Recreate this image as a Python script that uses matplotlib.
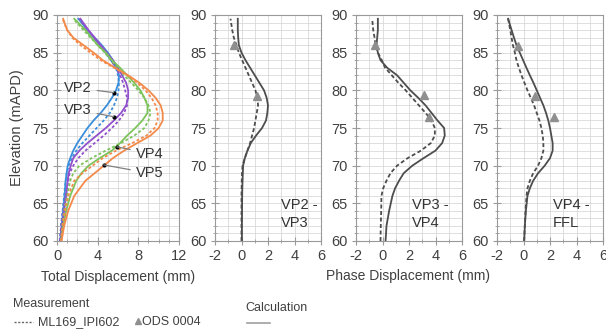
import numpy as np
import matplotlib
matplotlib.use("Agg")
import matplotlib.pyplot as plt
from matplotlib.lines import Line2D

plt.rcParams["font.family"] = ["Liberation Sans", "DejaVu Sans"]
plt.rcParams["font.size"] = 10

# elevation (mAPD) shared by the total displacement profiles
elev = [60, 62, 64, 66, 68, 69, 70, 71, 72, 73, 74, 75, 76, 77, 78, 79, 80,
        81, 82, 83, 84, 85, 86, 87, 88, 89.5]

# total displacement (mm): calc = solid, meas = dashed
vp2_calc = [0.3, 0.45, 0.6, 0.75, 0.85, 0.95, 1.05, 1.3, 1.6, 2.0, 2.5, 3.0, 3.6,
            4.3, 4.9, 5.4, 5.8, 6.05, 6.1, 5.9, 5.5, 5.0, 4.4, 3.7, 3.0, 2.1]
vp2_meas = [0.3, 0.4, 0.55, 0.7, 0.85, 0.95, 1.15, 1.45, 1.9, 2.5, 3.2, 3.9, 4.6,
            5.2, 5.6, 5.9, 6.05, 6.1, 6.0, 5.8, 5.3, 4.8, 4.2, 3.6, 3.0, 2.2]
vp3_calc = [0.35, 0.5, 0.7, 0.9, 1.05, 1.15, 1.35, 1.6, 2.2, 3.0, 3.9, 4.8, 5.6,
            6.3, 6.8, 7.0, 7.0, 6.8, 6.4, 6.0, 5.5, 4.9, 4.3, 3.7, 3.1, 2.3]
vp3_meas = [0.3, 0.4, 0.6, 0.85, 1.1, 1.25, 1.6, 2.1, 2.8, 3.7, 4.6, 5.4, 6.1,
            6.6, 6.9, 6.9, 6.7, 6.5, 6.2, 5.8, 5.3, 4.8, 4.2, 3.6, 3.0, 2.2]
vp4_calc = [0.4, 0.6, 0.9, 1.3, 1.9, 2.4, 3.1, 4.2, 5.4, 6.2, 6.9, 7.7, 8.4,
            8.9, 8.9, 8.6, 8.2, 7.6, 6.9, 6.2, 5.4, 4.8, 4.0, 3.4, 2.8, 1.7]
vp4_meas = [0.4, 0.5, 0.7, 1.0, 1.3, 1.6, 2.2, 3.4, 4.8, 6.3, 7.6, 8.6, 9.0,
            9.2, 9.0, 8.6, 8.0, 7.3, 6.6, 6.0, 5.3, 4.7, 4.0, 3.3, 2.6, 1.6]
vp5_calc = [0.45, 0.7, 1.1, 1.7, 2.8, 3.7, 4.6, 5.5, 6.6, 7.9, 9.2, 10.0, 10.4,
            10.4, 10.2, 9.7, 9.0, 8.1, 7.0, 5.7, 4.5, 3.6, 2.6, 1.6, 1.0, 0.6]
vp5_meas = [0.4, 0.55, 0.8, 1.1, 1.7, 2.5, 3.5, 4.5, 5.8, 7.4, 8.8, 9.6, 9.9,
            9.9, 9.7, 9.3, 8.7, 7.9, 6.9, 5.6, 4.3, 3.3, 2.3, 1.5, 1.0, 0.55]

profile_names = ["VP2", "VP3", "VP4", "VP5"]
profile_colors = ["#3a8edb", "#9150cc", "#7dc35b", "#f48a4a"]
calc_total = [vp2_calc, vp3_calc, vp4_calc, vp5_calc]
meas_total = [vp2_meas, vp3_meas, vp4_meas, vp5_meas]

# phase displacement panels
phase_titles = ["VP2 -\nVP3", "VP3 -\nVP4", "VP4 -\nFFL"]
ph_elev = [60, 62, 64, 66, 67, 68, 69, 70, 71, 72, 73, 74, 75, 76, 77, 78, 79,
           80, 81, 82, 83, 84, 85, 86, 87, 88, 89.5]
ph_calc = [
    [0.03, 0.03, 0.04, 0.05, 0.06, 0.08, 0.1, 0.12, 0.25, 0.45, 0.7, 1.1, 1.55,
     1.85, 1.95, 2.0, 1.9, 1.7, 1.35, 1.0, 0.65, 0.3, 0.0, -0.2, -0.25, -0.28, -0.28],
    [0.23, 0.3, 0.5, 0.75, 0.95, 1.25, 1.6, 2.25, 3.1, 4.0, 4.5, 4.7, 4.65, 4.15,
     3.7, 3.25, 2.7, 2.1, 1.6, 1.1, 0.35, -0.15, -0.35, -0.45, -0.4, -0.35, -0.35],
    [0.05, 0.1, 0.18, 0.3, 0.48, 0.73, 1.1, 1.6, 2.0, 2.2, 2.2, 2.1, 2.0, 1.87,
     1.7, 1.5, 1.25, 1.0, 0.75, 0.48, 0.22, -0.03, -0.28, -0.53, -0.72, -0.9, -1.16],
]
ph_meas = [
    [0.0, 0.0, 0.0, 0.0, 0.01, 0.02, 0.04, 0.08, 0.25, 0.45, 0.65, 0.8, 0.95,
     1.05, 1.15, 1.25, 1.2, 1.05, 0.8, 0.55, 0.3, 0.05, -0.2, -0.38, -0.58, -0.7, -0.83],
    [-0.15, -0.13, -0.1, -0.08, 0.05, 0.3, 0.6, 1.1, 1.9, 2.9, 3.65, 3.95, 3.95,
     3.7, 3.25, 2.75, 2.25, 1.75, 1.2, 0.7, 0.2, -0.05, -0.35, -0.53, -0.6, -0.7, -0.78],
    [0.05, 0.1, 0.15, 0.23, 0.3, 0.48, 0.73, 1.1, 1.35, 1.5, 1.5, 1.45, 1.35, 1.2,
     1.0, 0.8, 0.55, 0.3, 0.07, -0.15, -0.35, -0.53, -0.65, -0.8, -0.9, -1.0, -1.16],
]
# ODS 0004 points
ods_x = [[-0.58, 1.19], [-0.6, 3.13, 3.5], [-0.45, 0.86, 2.32]]
ods_y = [[86.0, 79.3], [86.0, 79.4, 76.5], [85.9, 79.3, 76.5]]

# label pointers on the total displacement panel
pointer_text = [(2.05, 80.3), (2.05, 77.4), (9.1, 71.6), (9.1, 69.0)]
pointer_tip = [(5.57, 79.7), (5.57, 76.5), (5.9, 72.5), (4.6, 70.1)]

txt_col = "#404040"
grid_col = "#d9d9d9"
spine_col = "#9a9a9a"
dark = "#4d4d4d"

W, H = 606, 334
fig = plt.figure(figsize=(W / 100, H / 100), dpi=100)


def px_axes(x0, x1, y0=15, y1=241):
    return fig.add_axes([x0 / W, 1 - y1 / H, (x1 - x0) / W, (y1 - y0) / H])


def style(ax, xmin, xmax, xstep):
    ax.set_xlim(xmin, xmax)
    ax.set_ylim(60, 90)
    ax.set_xticks(np.arange(xmin, xmax + 0.1, xstep))
    ax.set_xticks(np.arange(xmin, xmax + 0.1, 1), minor=True)
    ax.set_yticks(np.arange(60, 91, 5))
    ax.set_yticks(np.arange(60, 91, 1), minor=True)
    ax.grid(which="both", color=grid_col, lw=0.6)
    ax.set_axisbelow(True)
    ax.tick_params(which="major", direction="inout", length=6, width=0.8,
                   color=spine_col, labelcolor=txt_col, labelsize=10.5, pad=3)
    ax.tick_params(which="minor", direction="inout", length=3, width=0.6,
                   color=spine_col)
    for s in ax.spines.values():
        s.set_color(spine_col)
        s.set_linewidth(0.8)
    ax.set_xticklabels([f"{v:g}" for v in ax.get_xticks()])


ax1 = px_axes(57, 179)
style(ax1, 0, 12, 4)
for name, col, c, m in zip(profile_names, profile_colors, calc_total, meas_total):
    ax1.plot(m, elev, color=col, lw=1.3, ls=(0, (1.6, 1.2)))
    ax1.plot(c, elev, color=col, lw=1.3)
for name, (tx, ty), (px, py) in zip(profile_names, pointer_text, pointer_tip):
    ax1.annotate(name, xy=(px, py), xytext=(tx, ty), ha="center", va="center",
                 fontsize=10.5, color="#333333",
                 arrowprops=dict(arrowstyle="-", color="#808080", lw=0.9,
                                 shrinkA=2, shrinkB=0))
    ax1.plot(px, py, "o", color="black", ms=2)
ax1.set_ylabel("Elevation (mAPD)", color=txt_col, fontsize=10.5, labelpad=6)
ax1.set_xlabel("Total Displacement (mm)", color=txt_col, fontsize=10, labelpad=5)

phase_left = [215, 356, 497]
for i, x0 in enumerate(phase_left):
    ax = px_axes(x0, x0 + 106)
    style(ax, -2, 6, 2)
    ax.plot(ph_meas[i], ph_elev, color=dark, lw=1.3, ls=(0, (2.2, 1.4)))
    ax.plot(ph_calc[i], ph_elev, color=dark, lw=1.3)
    ax.plot(ods_x[i], ods_y[i], "^", color="#8f8f8f", ms=6, ls="none")
    ax.text(0.62 if i == 0 else 0.53, 0.12, phase_titles[i], transform=ax.transAxes,
            ha="left", va="center", fontsize=10.5, color="#333333", linespacing=1.3)

fig.text(408 / W, 1 - 276 / H, "Phase Displacement (mm)", ha="center", va="center",
         color=txt_col, fontsize=10)

# legend
fig.text(13 / W, 1 - 304 / H, "Measurement", ha="left", va="center",
         color=txt_col, fontsize=9)
fig.add_artist(Line2D([14 / W, 33 / W], [1 - 322 / H] * 2, color="#666666",
                      lw=1.0, ls=(0, (1.5, 1.2))))
fig.text(38 / W, 1 - 322 / H, "ML169_IPI602", ha="left", va="center",
         color=txt_col, fontsize=9)
fig.add_artist(Line2D([138 / W], [1 - 321 / H], marker="^", color="#8f8f8f",
                      ms=4, ls="none"))
fig.text(142 / W, 1 - 322 / H, "ODS 0004", ha="left", va="center",
         color=txt_col, fontsize=9)
fig.text(245 / W, 1 - 308 / H, "Calculation", ha="left", va="center",
         color=txt_col, fontsize=9)
fig.add_artist(Line2D([247 / W, 270 / W], [1 - 323 / H] * 2, color="#a0a0a0", lw=1.2))

fig.savefig("out.png", dpi=100)
